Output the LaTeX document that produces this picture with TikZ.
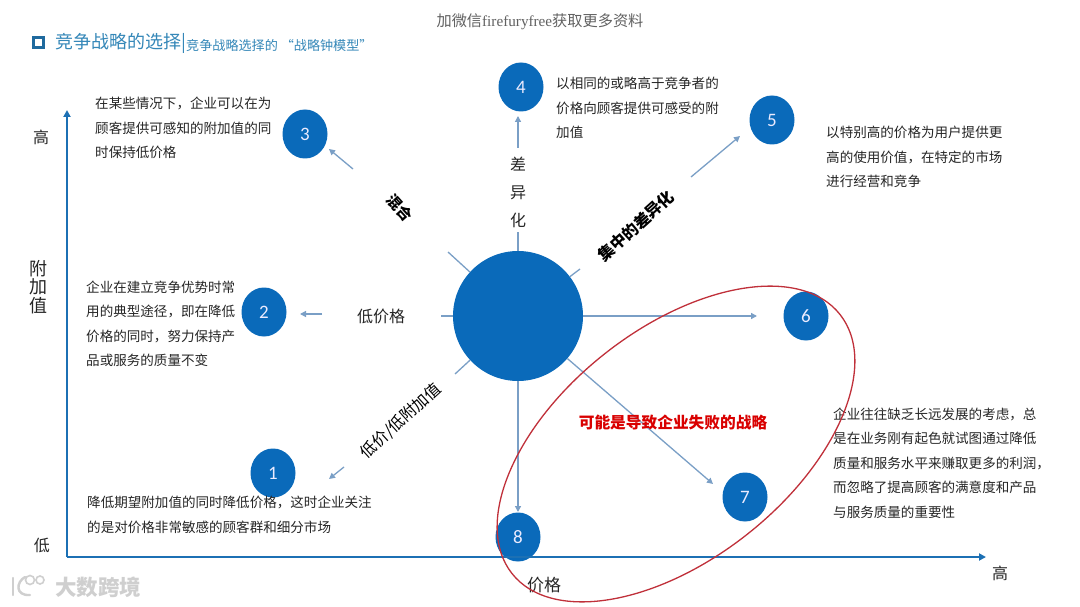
\documentclass[tikz,border=0pt]{standalone}
\usepackage{fontspec}
\setmainfont{Noto Sans CJK SC}
\newfontfamily\latinserif{Liberation Serif}
\newfontfamily\digitfont{Carlito}
\usetikzlibrary{arrows.meta,shapes.geometric}
\definecolor{hubblue}{HTML}{0A6ABA}
\definecolor{axisblue}{HTML}{1C70B4}
\definecolor{linkblue}{HTML}{7A9FC6}
\definecolor{titleblue}{HTML}{3487B8}
\definecolor{bulletblue}{HTML}{1F6A9E}
\definecolor{ringred}{HTML}{C0303A}
\definecolor{bodyink}{HTML}{262626}
\definecolor{markgray}{HTML}{CFCFCF}
\tikzset{
  x=1pt,y=-1pt,
  numdot/.style={ellipse,fill=hubblue,minimum width=45pt,minimum height=49pt,inner sep=0pt,text=blue!8!white,font=\digitfont\fontsize{19}{19}\selectfont},
  stub/.style={draw=linkblue,line width=1.3pt},
  conn/.style={draw=linkblue,line width=1.3pt,-{Triangle[length=6pt,width=6pt]}},
  axisline/.style={draw=axisblue,line width=2.6pt,-{Triangle[length=7pt,width=7pt]}},
  body/.style={anchor=west,inner sep=0pt,align=left,text=bodyink,font=\fontsize{13.55}{24.4}\selectfont},
  axislabel/.style={inner sep=0pt,text=bodyink,font=\fontsize{16}{19}\selectfont},
  diaglabel/.style={inner sep=0pt,text=black,font=\bfseries\fontsize{16}{16}\selectfont},
  planelabel/.style={inner sep=0pt,text=bodyink,font=\fontsize{16}{16}\selectfont},
}
\begin{document}
\begin{tikzpicture}
\useasboundingbox (0,0) rectangle (1080,607);
\fill[white] (0,0) rectangle (1080,607);
% top note and title
\node[inner sep=0pt,text=black!62,font=\fontsize{15.2}{15}\selectfont] (note) at (540,22) {加微信{\latinserif firefuryfree}获取更多资料};
\node[draw=bulletblue,line width=3.2pt,minimum size=9.5pt,inner sep=0pt] (bullet) at (38.5,42.5) {};
\node[anchor=west,inner sep=0pt,text=titleblue,font=\fontsize{18}{18}\selectfont] (title) at (55,43) {竞争战略的选择|};
\node[anchor=west,inner sep=0pt,text=titleblue,font=\fontsize{13.1}{13}\selectfont] (subtitle) at (186,45) {竞争战略选择的 “战略钟模型”};
% hub and numbered circles
\node[circle,fill=hubblue,minimum size=130pt,inner sep=0pt] (hub) at (518,316) {};
\node[numdot] (n1) at (273,473) {1};
\node[numdot] (n2) at (264,312) {2};
\node[numdot] (n3) at (305,134) {3};
\node[numdot] (n4) at (521,87) {4};
\node[numdot] (n5) at (772,120) {5};
\node[numdot] (n6) at (806,316) {6};
\node[numdot] (n7) at (745,497) {7};
\node[numdot] (n8) at (518,537) {8};
% stubs on the hub
\coordinate (s1) at (455,374);
\coordinate (s2) at (441,316);
\coordinate (s3) at (448,252);
\coordinate (s4) at (518,232);
\coordinate (s5) at (580,269);
\draw[stub] (hub) -- (s1);
\draw[stub] (hub) -- (s2);
\draw[stub] (hub) -- (s3);
\draw[stub] (hub) -- (s4);
\draw[stub] (hub) -- (s5);
% arrows
\coordinate (a1) at (344,467);
\coordinate (a2) at (322,314);
\coordinate (a3) at (353,169);
\coordinate (a4) at (518,148);
\coordinate (a5) at (691,177);
\coordinate (e1) at (329,479);
\coordinate (e2) at (300,314);
\coordinate (e3) at (329,149);
\coordinate (e4) at (518,116);
\coordinate (e5) at (740,136);
\coordinate (e6) at (757,316);
\coordinate (e7) at (713,484);
\coordinate (e8) at (518,512);
\draw[conn] (a1) -- (e1);
\draw[conn] (a2) -- (e2);
\draw[conn] (a3) -- (e3);
\draw[conn] (a4) -- (e4);
\draw[conn] (a5) -- (e5);
\draw[conn] (hub) -- (e6);
\draw[conn] (hub) -- (e7);
\draw[conn] (hub) -- (e8);
% axes
\coordinate (origin) at (67,557);
\coordinate (ytop) at (67,110);
\coordinate (xend) at (986,557);
\draw[axisline] (origin) -- (ytop);
\draw[axisline] (origin) -- (xend);
% axis labels
\node[axislabel] (yhigh) at (41,137) {高};
\node[axislabel] (ylow) at (42,545) {低};
\node[axislabel,align=center,font=\fontsize{18}{18.5}\selectfont] (yname) at (38,287) {附\\加\\值};
\node[axislabel,font=\fontsize{17}{17}\selectfont] (xname) at (544,585) {价格};
\node[axislabel] (xhigh) at (1000,573) {高};
% strategy labels
\node[diaglabel,rotate=-48,font=\bfseries\fontsize{15}{15}\selectfont] (l3) at (400,208) {混合};
\node[diaglabel,rotate=42] (l5) at (636,226) {集中的差异化};
\node[diaglabel,rotate=42,font=\fontsize{16}{16}\selectfont] (l1) at (401,421) {低价/低附加值};
\node[planelabel] (l2) at (381,316) {低价格};
\node[planelabel,align=center,font=\fontsize{16}{28}\selectfont] (l4) at (518,192) {差\\异\\化};
% descriptions
\node[body] (t3) at (95,128) {在某些情况下，企业可以在为\\顾客提供可感知的附加值的同\\时保持低价格};
\node[body] (t2) at (86,324) {企业在建立竞争优势时常\\用的典型途径，即在降低\\价格的同时，努力保持产\\品或服务的质量不变};
\node[body] (t1) at (87,515) {降低期望附加值的同时降低价格，这时企业关注\\的是对价格非常敏感的顾客群和细分市场};
\node[body] (t4) at (556,108) {以相同的或略高于竞争者的\\价格向顾客提供可感受的附\\加值};
\node[body] (t5) at (826,157) {以特别高的价格为用户提供更\\高的使用价值，在特定的市场\\进行经营和竞争};
\node[body] (t7) at (833,463) {企业往往缺乏长远发展的考虑，总\\是在业务刚有起色就试图通过降低\\质量和服务水平来赚取更多的利润，\\而忽略了提高顾客的满意度和产品\\与服务质量的重要性};
% red ring and its label
\node[ellipse,draw=ringred,line width=1.3pt,minimum width=418pt,minimum height=230pt,inner sep=0pt,rotate=38.3] (ring) at (676,444) {};
\node[inner sep=0pt,text=red!85!black,font=\bfseries\fontsize{15.7}{16}\selectfont] (ringlabel) at (673,422) {可能是导致企业失败的战略};
% corner watermark
\draw[markgray,line width=2.4pt,line cap=round] (13,578) -- (13,595);
\draw[markgray,line width=2.4pt,line cap=round] (25,577) .. controls (16,582) and (15,596) .. (30,595);
\node[circle,draw=markgray,line width=1.6pt,minimum size=9pt,inner sep=0pt] (wm1) at (30,580) {};
\node[circle,draw=markgray,line width=1.6pt,minimum size=8pt,inner sep=0pt] (wm2) at (40,580) {};
\node[inner sep=0pt,text=markgray,font=\bfseries\fontsize{21.5}{21}\selectfont] (wmtext) at (98,587) {大数跨境};
\end{tikzpicture}
\end{document}
